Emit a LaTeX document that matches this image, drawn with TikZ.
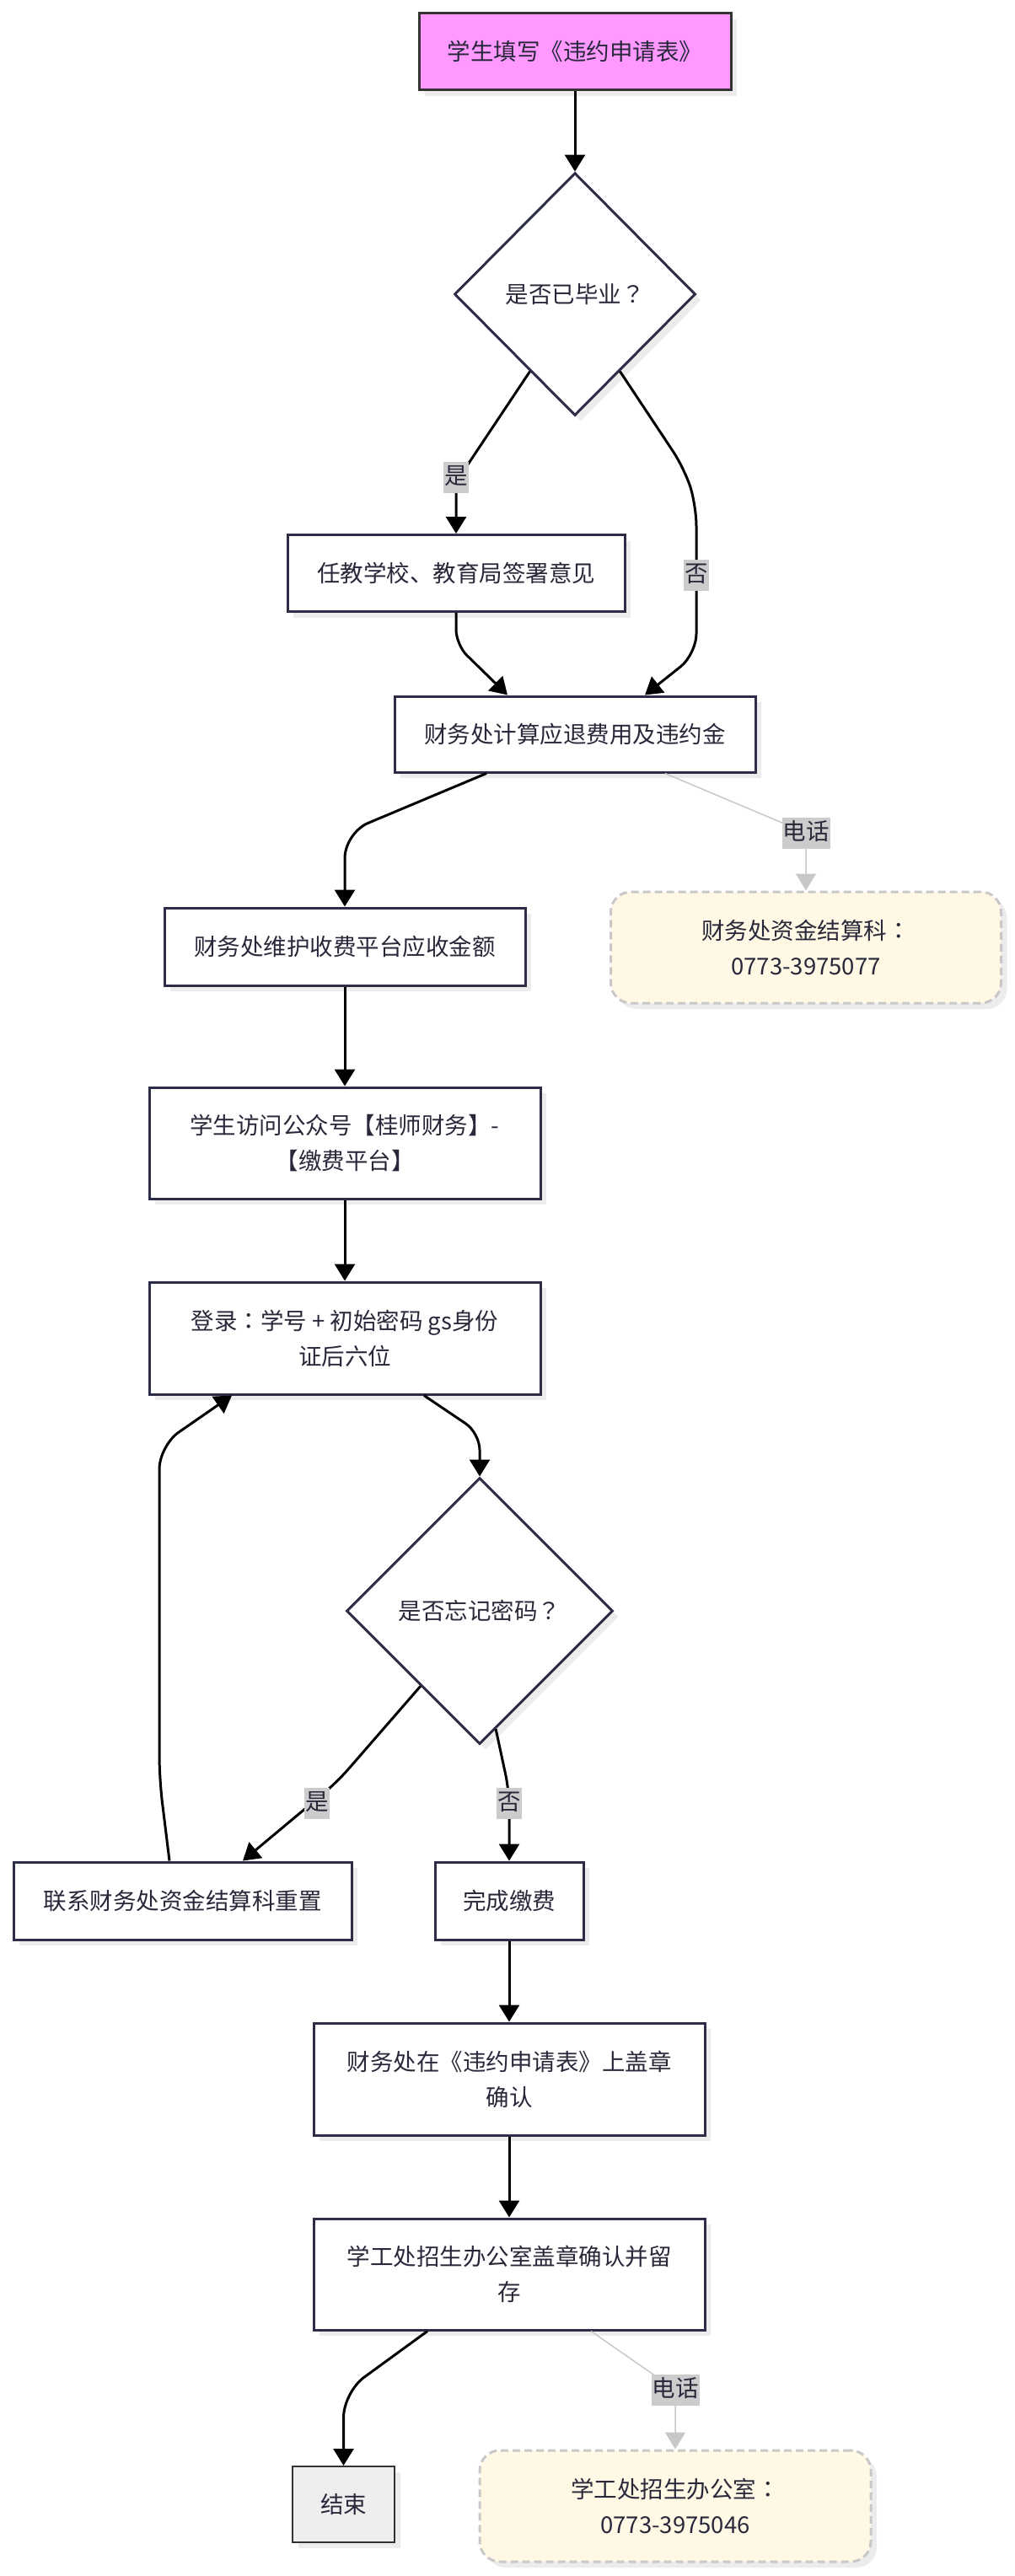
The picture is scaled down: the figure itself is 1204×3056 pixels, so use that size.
\documentclass[tikz,border=0pt]{standalone}
\usepackage{fontspec}
\setmainfont{Noto Sans CJK SC}
\newfontfamily\punctfont{Noto Sans CJK TC}
\newcommand{\qcolon}{{\punctfont ：}}
\newcommand{\qmark}{{\punctfont ？}}
\usetikzlibrary{shapes.geometric,arrows.meta,shadows,calc}
\definecolor{nbord}{RGB}{45,45,72}
\definecolor{ntext}{RGB}{40,40,58}
\definecolor{startfill}{RGB}{255,153,255}
\definecolor{startbord}{RGB}{51,51,51}
\definecolor{notefill}{RGB}{255,248,228}
\definecolor{notebord}{RGB}{200,200,200}
\definecolor{lblfill}{RGB}{204,204,204}
\definecolor{shadowc}{RGB}{236,236,236}
\definecolor{endfill}{RGB}{238,238,238}
\definecolor{garrc}{RGB}{200,200,200}
\begin{document}
\begin{tikzpicture}[x=1pt,y=-1pt,
  every node/.style={font=\fontsize{27.5pt}{42pt}\selectfont, text=ntext},
  shad/.style={drop shadow={shadow xshift=7pt, shadow yshift=-7pt, fill=shadowc, opacity=1}},
  box/.style={rectangle, draw=nbord, line width=3pt, fill=white, inner sep=0pt, align=center, shad},
  startbox/.style={box, draw=startbord, fill=startfill},
  endbox/.style={box, draw=startbord, line width=2pt, fill=endfill},
  notebox/.style={rectangle, rounded corners=24pt, draw=notebord, dash pattern=on 9pt off 5pt, line width=3pt, fill=notefill, inner sep=0pt, align=center, shad},
  decis/.style={diamond, aspect=1, draw=nbord, line width=3pt, fill=white, inner sep=0pt, shad},
  arr/.style={draw=black, line width=3pt, -{Triangle[length=20pt,width=24pt]}},
  garr/.style={draw=garrc, line width=1.5pt, -{Triangle[length=20pt,width=24pt,fill=garrc]}},
  lbl/.style={fill=lblfill, inner xsep=1pt, inner ysep=0pt, text height=27pt, text depth=10pt}
]
\useasboundingbox (0,0) rectangle (1204,3056);

% nodes
\node[startbox, minimum width=370pt, minimum height=91pt] (A) at (682,61.5) {学生填写《违约申请表》};
\node[decis, minimum width=286pt, minimum height=288pt] (B) at (682,349) {是否已毕业\qmark};
\node[box, minimum width=400pt, minimum height=91pt] (C) at (541,680) {任教学校、教育局签署意见};
\node[box, minimum width=428pt, minimum height=90pt] (D) at (682,871) {财务处计算应退费用及违约金};
\node[notebox, minimum width=463pt, minimum height=132pt] (E) at (956,1124) {财务处资金结算科\qcolon\\0773-3975077};
\node[box, minimum width=428pt, minimum height=92pt] (F) at (409,1123) {财务处维护收费平台应收金额};
\node[box, minimum width=464pt, minimum height=132pt] (G) at (409,1356) {学生访问公众号【桂师财务】-\\【缴费平台】};
\node[box, minimum width=464pt, minimum height=133pt] (H) at (409,1587.5) {登录\qcolon 学号 + 初始密码 gs身份\\证后六位};
\node[decis, minimum width=316pt, minimum height=316pt] (I) at (569,1911) {是否忘记密码\qmark};
\node[box, minimum width=401pt, minimum height=92pt] (J) at (216.5,2255) {联系财务处资金结算科重置};
\node[box, minimum width=176pt, minimum height=92pt] (K) at (604,2255) {完成缴费};
\node[box, minimum width=464pt, minimum height=133pt] (L) at (604,2466.5) {财务处在《违约申请表》上盖章\\确认};
\node[box, minimum width=464pt, minimum height=132pt] (M) at (604,2698) {学工处招生办公室盖章确认并留\\存};
\node[endbox, minimum width=121pt, minimum height=90pt] (N) at (407.5,2971) {结束};
\node[notebox, minimum width=464pt, minimum height=132pt] (O) at (801,2973) {学工处招生办公室\qcolon\\0773-3975046};

% connectors
\draw[arr] (A) -- (B);
\draw[arr, rounded corners=16pt] ($(B.south)!0.37!(B.west)$) -- (541,572) -- (C.north);
\draw[arr, rounded corners=24pt] ($(B.south)!0.37!(B.east)$) -- (812,556) -- (826,600) -- (826,776) -- ($(D.north)+(83,0)$);
\draw[arr, rounded corners=18pt] (C.south) -- (541,765) -- ($(D.north)+(-80,0)$);
\draw[garr] ($(D.south)+(107,0)$) -- (956,988) -- (E.north);
\draw[arr, rounded corners=30pt] ($(D.south)+(-105,0)$) -- (409,988) -- (F.north);
\draw[arr] (F) -- (G);
\draw[arr] (G) -- (H);
\draw[arr, rounded corners=20pt] ($(H.south)+(94,0)$) -- (569,1700) -- (I.north);
\draw[arr, rounded corners=20pt] ($(I.south)!0.44!(I.west)$) -- (400,2114) -- ($(J.north)+(71.5,0)$);
\draw[arr, rounded corners=20pt] ($(I.south)!0.12!(I.east)$) -- (604,2125) -- (K.north);
\draw[arr, rounded corners=28pt] ($(J.north)+(-15.5,0)$) -- (189,2110) -- (189,1715) -- ($(H.south)+(-134,0)$);
\draw[arr] (K) -- (L);
\draw[arr] (L) -- (M);
\draw[arr, rounded corners=30pt] ($(M.south)+(-97,0)$) -- (407.5,2838) -- (N.north);
\draw[garr] ($(M.south)+(97,0)$) -- (801,2835) -- (O.north);

% edge labels
\node[lbl] (l1) at (541,566) {是};
\node[lbl] (l2) at (826,682) {否};
\node[lbl] (l3) at (956,988) {电话};
\node[lbl] (l4) at (376,2139) {是};
\node[lbl] (l5) at (604,2139) {否};
\node[lbl] (l6) at (801,2835) {电话};
\end{tikzpicture}
\end{document}
